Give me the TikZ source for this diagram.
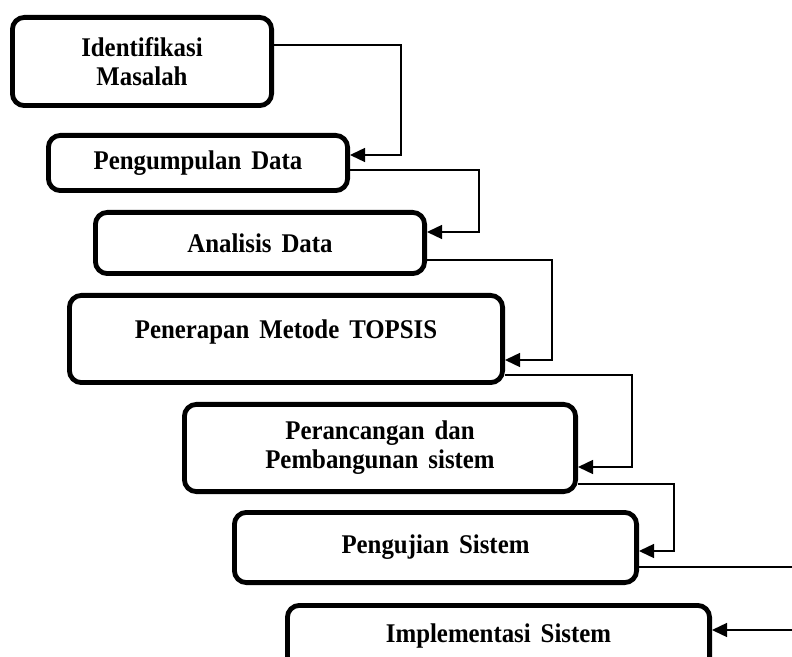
\documentclass[tikz,border=0pt]{standalone}
\usepackage{fontspec}
\newfontfamily\phasefont{Liberation Serif}[FakeStretch=0.92, WordSpace=1.6]
\usetikzlibrary{arrows.meta}
\tikzset{
  phase/.style = {draw, line width=2.4pt, rounded corners=6pt, inner sep=0pt,
                  align=center, font=\phasefont\bfseries\fontsize{13.5}{14.5}\selectfont},
  raised/.style= {text height=9pt, text depth=9pt},
  link/.style  = {-{Triangle[length=7.5pt,width=7pt]}, line width=0.7pt},
}

\begin{document}
\begin{tikzpicture}[x=0.5pt, y=-0.5pt]
  \useasboundingbox (0,0) rectangle (792,657);
  \clip (0,0) rectangle (792,657);

  \node[phase, minimum width=129.6pt, minimum height=44.1pt] (ident) at (142,61.5)
       {Identifikasi\\Masalah};
  \node[phase, minimum width=149.6pt, minimum height=27.6pt] (collect) at (198,163)
       {Pengumpulan Data};
  \node[phase, minimum width=164.6pt, minimum height=30.6pt] (analysis) at (260,243)
       {Analisis Data};
  \node[phase, raised, minimum width=216.6pt, minimum height=43.6pt] (topsis) at (286,339)
       {Penerapan Metode TOPSIS};
  \node[phase, minimum width=195.6pt, minimum height=43.6pt] (design) at (380,448)
       {Perancangan dan\\Pembangunan sistem};
  \node[phase, minimum width=201.1pt, minimum height=35.1pt] (testing) at (435.5,547.5)
       {Pengujian Sistem};
  \node[phase, raised, minimum width=211.1pt, minimum height=36.6pt] (impl) at (498.5,642)
       {Implementasi Sistem};

  \draw[link] ([yshift=8.25pt]ident.east) -- ++(127,0) |- ([yshift=4pt]collect.east);
  \draw[link] ([yshift=-3.5pt]collect.east) -- ++(129,0) |- ([yshift=5.5pt]analysis.east);
  \draw[link] ([yshift=-8.5pt]analysis.east) -- ++(125,0) |- ([yshift=-10.5pt]topsis.east);
  \draw[link] ([yshift=-18pt]topsis.east) -- ++(127,0) |- ([yshift=-9.5pt]design.east);
  \draw[link] ([yshift=-18pt]design.east) -- ++(96,0) |- ([yshift=-1.75pt]testing.east);
  \draw[link] ([yshift=-9.75pt]testing.east) -- ++(173,0) |- ([yshift=6pt]impl.east);
\end{tikzpicture}
\end{document}
